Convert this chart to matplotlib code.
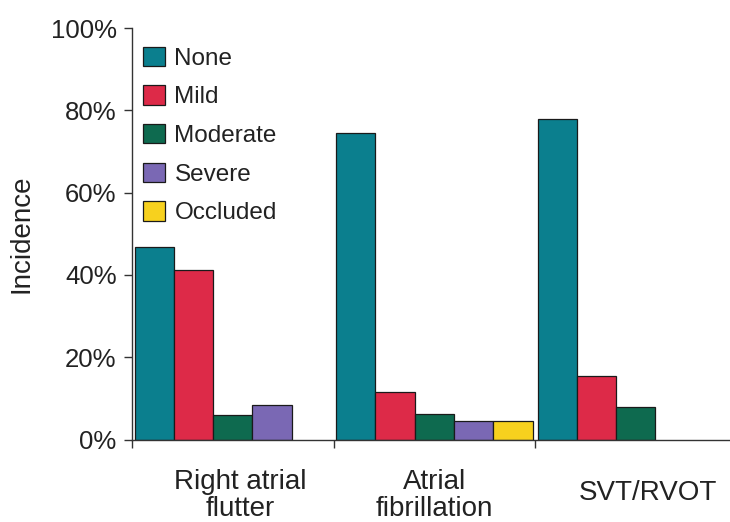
import matplotlib
matplotlib.use("Agg")
import matplotlib.pyplot as plt
import numpy as np
from matplotlib.patches import Patch

plt.rcParams['font.family'] = ['Liberation Sans', 'DejaVu Sans']

categories = ["Right atrial\nflutter", "Atrial\nfibrillation", "SVT/RVOT"]
series_names = ["None", "Mild", "Moderate", "Severe", "Occluded"]
none_vals = [46.7, 74.6, 77.9]
mild_vals = [41.2, 11.6, 15.4]
moderate_vals = [6.0, 6.1, 8.0]
severe_vals = [8.4, 4.6, 0.0]
occluded_vals = [0.0, 4.6, 0.0]
yticks = [0, 20, 40, 60, 80, 100]
ytick_labels = ["0%", "20%", "40%", "60%", "80%", "100%"]

colors = ["#0b7f8e", "#dd2a48", "#0e6a4f", "#7a68b4", "#f7d11e"]
series = [none_vals, mild_vals, moderate_vals, severe_vals, occluded_vals]

fig = plt.figure(figsize=(7.3, 5.22), dpi=100)
ax = fig.add_axes([0.1808, 0.158, 0.8282, 0.7883])

x = np.arange(len(categories))
w = 0.195
for j, (vals, col) in enumerate(zip(series, colors)):
    xs = x + (j - 2) * w
    for xi, v in zip(xs, vals):
        if v > 0:
            ax.bar(xi, v, width=w, color=col, edgecolor="#1a1a1a", linewidth=0.9)

ax.set_xlim(-0.5, 2.5)
ax.set_ylim(0, 100)
ax.set_yticks(yticks)
ax.set_yticklabels(ytick_labels, fontsize=18.5, color="#222222")
ax.set_xticks([-0.5, 0.5, 1.5, 2.5])
ax.set_xticklabels([])
ax.tick_params(axis="both", direction="out", length=6, width=1, color="#333333")
ax.tick_params(axis="y", pad=5)
for s in ["top", "right"]:
    ax.spines[s].set_visible(False)
for s in ["left", "bottom"]:
    ax.spines[s].set_color("#333333")
    ax.spines[s].set_linewidth(1)

label_offsets = [0.035, 0.0, 0.06]
label_y = [-13.6, -13.6, -13.0]
for xi, lab, off, ly in zip(x, categories, label_offsets, label_y):
    ax.text(xi + off, ly, lab, ha="center", va="center", fontsize=20,
            color="#222222", linespacing=1.02, clip_on=False)

ax.set_ylabel("Incidence", fontsize=20, color="#222222")
ax.yaxis.set_label_coords(-0.161, 0.5)

handles = [Patch(facecolor=c, edgecolor="#1a1a1a", linewidth=0.9) for c in colors]
ax.legend(handles, series_names, loc="upper left", bbox_to_anchor=(0.018, 0.955),
          frameon=False, fontsize=17.5, handlelength=0.9, handleheight=0.85,
          handletextpad=0.4, labelspacing=0.64, borderaxespad=0, borderpad=0,
          labelcolor="#222222")

fig.savefig("out.png", dpi=100)
